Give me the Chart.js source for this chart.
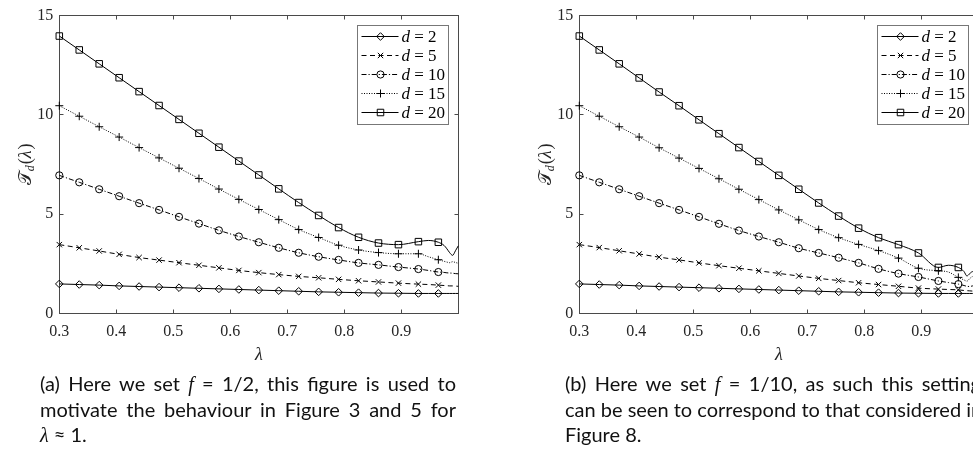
<!DOCTYPE html>
<html>
<head>
<meta charset="utf-8">
<script src="https://cdn.jsdelivr.net/npm/chart.js@4.4.0/dist/chart.umd.min.js"></script>
<style>
  html, body { margin: 0; padding: 0; background: #fff; }
  body { width: 973px; height: 466px; overflow: hidden; position: relative; }
  .fig { position: absolute; top: 0; }
  .cap { position: absolute; top: 371px; width: 416px; font-family: Lato, sans-serif; font-size: 20px; line-height: 25px; color: #111; }
  .cap div { white-space: nowrap; }
  .just { text-align: justify; text-align-last: justify; }
  .m { font-family: 'Liberation Serif', serif; font-style: italic; }
</style>
</head>
<body>
<canvas id="chartA" class="fig" width="480" height="375" style="left:0px"></canvas>
<canvas id="chartB" class="fig" width="480" height="375" style="left:520px"></canvas>

<div class="cap" style="left:40px">
  <div class="just">(a) Here we set <span class="m">f</span> = 1/2, this figure is used to</div>
  <div class="just">motivate the behaviour in Figure 3 and 5 for</div>
  <div><span class="m">λ</span> ≈ 1.</div>
</div>
<div class="cap" style="left:565px">
  <div class="just">(b) Here we set <span class="m">f</span> = 1/10, as such this setting</div>
  <div class="just">can be seen to correspond to that considered in</div>
  <div>Figure 8.</div>
</div>

<script>
// lambda grid (markers on every point up to 0.965 except 0.9475)
const lam = [0.3, 0.335, 0.37, 0.405, 0.44, 0.475, 0.51, 0.545, 0.58, 0.615, 0.65, 0.685, 0.72,
  0.755, 0.79, 0.825, 0.86, 0.895, 0.93, 0.9475, 0.965, 0.975, 0.98, 0.985, 0.99, 0.995, 1.0];
const dValues = [2, 5, 10, 15, 20];

// d = 2 (same in both panels)
const t2 = [1.48, 1.45, 1.42, 1.38, 1.35, 1.32, 1.29, 1.26, 1.23, 1.20, 1.17, 1.14, 1.11,
  1.08, 1.06, 1.04, 1.02, 1.01, 1.00, 1.00, 1.00, 1.00, 1.00, 1.00, 1.00, 1.00, 1.00];

// (a) f = 1/2
const halfT5 = [3.46, 3.30, 3.14, 2.97, 2.81, 2.68, 2.55, 2.42, 2.29, 2.16, 2.05, 1.95, 1.86,
  1.79, 1.71, 1.64, 1.58, 1.52, 1.47, 1.45, 1.42, 1.40, 1.39, 1.38, 1.38, 1.37, 1.36];
const halfT10 = [6.95, 6.60, 6.25, 5.90, 5.55, 5.21, 4.86, 4.52, 4.18, 3.87, 3.58, 3.30, 3.05,
  2.85, 2.69, 2.54, 2.44, 2.33, 2.23, 2.16, 2.08, 2.06, 2.04, 2.03, 2.02, 2.00, 1.99];
const halfT15 = [10.46, 9.93, 9.40, 8.88, 8.35, 7.83, 7.31, 6.79, 6.26, 5.74, 5.23, 4.72, 4.22,
  3.82, 3.43, 3.19, 3.06, 3.00, 3.00, 2.85, 2.70, 2.62, 2.58, 2.55, 2.60, 2.56, 2.52];
const halfT20 = [13.97, 13.27, 12.57, 11.87, 11.17, 10.47, 9.77, 9.07, 8.37, 7.67, 6.97, 6.27, 5.58,
  4.93, 4.32, 3.83, 3.54, 3.46, 3.61, 3.67, 3.58, 3.42, 3.25, 3.05, 2.92, 3.15, 3.40];

// (b) f = 1/10
const tenthT5 = [3.46, 3.31, 3.15, 2.99, 2.83, 2.69, 2.54, 2.40, 2.27, 2.14, 2.01, 1.88, 1.76,
  1.65, 1.54, 1.45, 1.36, 1.27, 1.22, 1.20, 1.18, 1.15, 1.14, 1.13, 1.12, 1.12, 1.11];
const tenthT10 = [6.95, 6.60, 6.25, 5.90, 5.55, 5.21, 4.86, 4.51, 4.17, 3.87, 3.58, 3.28, 3.04,
  2.80, 2.54, 2.24, 2.00, 1.83, 1.63, 1.55, 1.47, 1.40, 1.36, 1.35, 1.38, 1.36, 1.35];
const tenthT15 = [10.46, 9.93, 9.40, 8.88, 8.34, 7.82, 7.30, 6.78, 6.25, 5.73, 5.21, 4.71, 4.22,
  3.81, 3.47, 3.16, 2.78, 2.27, 2.14, 2.08, 1.81, 1.68, 1.62, 1.75, 1.85, 1.70, 1.60];
const tenthT20 = [13.97, 13.27, 12.57, 11.86, 11.15, 10.46, 9.75, 9.05, 8.35, 7.65, 6.95, 6.25, 5.56,
  4.90, 4.29, 3.81, 3.46, 3.04, 2.31, 2.42, 2.31, 2.10, 1.88, 2.00, 2.10, 1.90, 1.80];

const xTicks = [0.3, 0.4, 0.5, 0.6, 0.7, 0.8, 0.9];
const yTicks = [0, 5, 10, 15];

const styles = [
  { pointStyle: 'rectRot', radius: 3.8, dash: [] },
  { pointStyle: 'crossRot', radius: 3.8, dash: [5, 3.5] },
  { pointStyle: 'circle', radius: 3.6, dash: [5, 2, 1.2, 2] },
  { pointStyle: 'cross', radius: 4, dash: [1, 1.5] },
  { pointStyle: 'rect', radius: 4.6, dash: [] }
];
const axisColor = '#4a4a4a';
const serif = "'Liberation Serif', serif";

function hasMarker(i) {
  return i <= 20 && i !== 19;
}

function makeDatasets(series) {
  return series.map((vals, k) => ({
    label: 'd = ' + dValues[k],
    data: lam.map((x, i) => ({ x: x, y: vals[i] })),
    borderColor: '#000',
    borderWidth: 1,
    borderDash: styles[k].dash,
    pointStyle: styles[k].pointStyle,
    pointRadius: ctx => hasMarker(ctx.dataIndex) ? styles[k].radius : 0,
    pointHoverRadius: 0,
    pointBorderColor: '#000',
    pointBackgroundColor: 'rgba(0,0,0,0)',
    pointBorderWidth: 1,
    cubicInterpolationMode: 'monotone',
    clip: false
  }));
}

// box round the plot with inward ticks
const framePlugin = {
  id: 'frame',
  beforeDatasetsDraw(chart) {
    const ctx = chart.ctx, a = chart.chartArea;
    const sx = chart.scales.x, sy = chart.scales.y;
    const L = Math.floor(a.left) + 0.5, R = Math.floor(a.right) + 0.5;
    const T = Math.floor(a.top) + 0.5, B = Math.floor(a.bottom) + 0.5;
    ctx.save();
    ctx.strokeStyle = axisColor;
    ctx.lineWidth = 1;
    ctx.strokeRect(L, T, R - L, B - T);
    ctx.beginPath();
    xTicks.forEach(v => {
      const px = Math.floor(sx.getPixelForValue(v)) + 0.5;
      ctx.moveTo(px, B); ctx.lineTo(px, B - 4);
      ctx.moveTo(px, T); ctx.lineTo(px, T + 4);
    });
    yTicks.forEach(v => {
      const py = Math.floor(sy.getPixelForValue(v)) + 0.5;
      ctx.moveTo(L, py); ctx.lineTo(L + 4, py);
      ctx.moveTo(R, py); ctx.lineTo(R - 4, py);
    });
    ctx.stroke();
    ctx.restore();
  }
};

// axis titles: lambda under, T_d(lambda) on the left
const titlePlugin = {
  id: 'titles',
  afterDraw(chart) {
    const ctx = chart.ctx, a = chart.chartArea;
    ctx.save();
    ctx.fillStyle = '#262626';
    ctx.textBaseline = 'alphabetic';
    ctx.textAlign = 'center';
    ctx.font = 'italic 18px ' + serif;
    ctx.fillText('λ', (a.left + a.right) / 2, a.bottom + 47);

    ctx.translate(a.left - 34, (a.top + a.bottom) / 2);
    ctx.rotate(-Math.PI / 2);
    ctx.textAlign = 'left';
    const fBig = "18px 'DejaVu Serif', 'DejaVu Sans', serif";
    const fSub = 'italic 12px ' + serif;
    const fPar = '18px ' + serif;
    const fLam = 'italic 18px ' + serif;
    ctx.font = fBig; const w1 = ctx.measureText('𝒯').width;
    ctx.font = fSub; const w2 = ctx.measureText('d').width;
    ctx.font = fPar; const wp = ctx.measureText('(').width;
    ctx.font = fLam; const wl = ctx.measureText('λ').width;
    let x = -(w1 + w2 + 2 * wp + wl + 2) / 2;
    ctx.font = fBig; ctx.fillText('𝒯', x, 6); x += w1;
    ctx.font = fSub; ctx.fillText('d', x, 9); x += w2 + 1;
    ctx.font = fPar; ctx.fillText('(', x, 6); x += wp;
    ctx.font = fLam; ctx.fillText('λ', x, 6); x += wl + 1;
    ctx.font = fPar; ctx.fillText(')', x, 6);
    ctx.restore();
  }
};

// boxed legend in the top right corner of the plot
const legendPlugin = {
  id: 'boxLegend',
  afterDraw(chart) {
    const ctx = chart.ctx, a = chart.chartArea;
    const w = 91, h = 99;
    const left = Math.floor(a.right - 10 - w) + 0.5, top = Math.floor(a.top + 9.5) + 0.5;
    ctx.save();
    ctx.fillStyle = '#fff';
    ctx.fillRect(left, top, w, h);
    ctx.strokeStyle = '#777';
    ctx.lineWidth = 1;
    ctx.strokeRect(left, top, w, h);
    chart.data.datasets.forEach((ds, k) => {
      const y = top + 11 + k * 19;
      ctx.strokeStyle = '#000';
      ctx.setLineDash(ds.borderDash);
      ctx.beginPath();
      ctx.moveTo(left + 4, y);
      ctx.lineTo(left + 41, y);
      ctx.stroke();
      ctx.setLineDash([]);
      ctx.fillStyle = 'rgba(0,0,0,0)';
      Chart.helpers.drawPoint(ctx, { pointStyle: styles[k].pointStyle, radius: styles[k].radius, borderWidth: 1, rotation: 0 }, left + 23, y);
      ctx.fillStyle = '#000';
      ctx.textBaseline = 'middle';
      ctx.textAlign = 'left';
      ctx.font = 'italic 17px ' + serif;
      ctx.fillText('d', left + 44, y + 1);
      const wd = ctx.measureText('d').width;
      ctx.font = '17px ' + serif;
      ctx.fillText(' = ' + dValues[k], left + 44 + wd, y + 1);
    });
    ctx.restore();
  }
};

function makeChart(id, series) {
  return new Chart(document.getElementById(id), {
    type: 'line',
    data: { datasets: makeDatasets(series) },
    options: {
      responsive: false,
      animation: false,
      devicePixelRatio: 1,
      layout: { padding: { top: 7.7, right: 21.7, left: 0, bottom: 0 } },
      plugins: { legend: { display: false }, tooltip: { enabled: false } },
      scales: {
        x: {
          type: 'linear', min: 0.3, max: 1.0,
          grid: { display: false, drawTicks: false },
          border: { display: false },
          ticks: {
            stepSize: 0.1, padding: 9, autoSkip: false, maxRotation: 0,
            color: '#262626', font: { family: serif, size: 16 },
            callback: v => v > 0.95 ? '' : v.toFixed(1)
          },
          afterFit: s => { s.height = 61.7; }
        },
        y: {
          type: 'linear', min: 0, max: 15,
          grid: { display: false, drawTicks: false },
          border: { display: false },
          ticks: {
            stepSize: 5, padding: 6,
            color: '#262626', font: { family: serif, size: 16 },
            callback: v => String(v)
          },
          afterFit: s => { s.width = 59.3; }
        }
      }
    },
    plugins: [framePlugin, titlePlugin, legendPlugin]
  });
}

makeChart('chartA', [t2, halfT5, halfT10, halfT15, halfT20]);
makeChart('chartB', [t2, tenthT5, tenthT10, tenthT15, tenthT20]);
</script>
</body>
</html>
